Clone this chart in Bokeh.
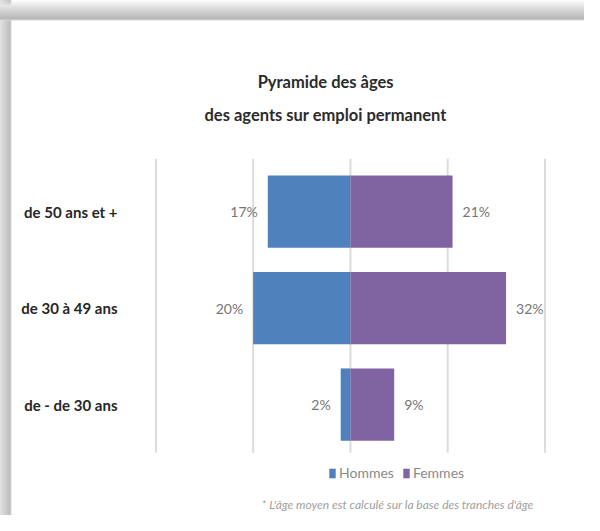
from bokeh.plotting import figure
from bokeh.models import (ColumnDataSource, Range1d, LabelSet, Label, Legend,
                          LegendItem, FixedTicker)
from bokeh.core.properties import value
from bokeh.embed import file_html
from bokeh.resources import INLINE

categories = ["de 50 ans et +", "de 30 à 49 ans", "de - de 30 ans"]
hommes = [17, 20, 2]
femmes = [21, 32, 9]
grid_ticks = [-40, -20, 0, 20, 40]

FONT = "Lato"
BLUE = "#4F81BD"
PURPLE = "#8064A2"

n = len(categories)
ypos = [n - 1 - i for i in range(n)]          # top category drawn highest

src = ColumnDataSource(dict(
    y=ypos,
    h_left=[-v for v in hommes],
    zero=[0] * n,
    f_right=femmes,
    h_lab=[f"{v}%" for v in hommes],
    f_lab=[f"{v}%" for v in femmes],
))

p = figure(width=584, height=515,
           x_range=Range1d(-40.5, 43.2), y_range=Range1d(-1.15, 4.19),
           output_backend="svg", toolbar_location=None,
           min_border_left=153, min_border_right=24,
           min_border_top=0, min_border_bottom=0)
p.outline_line_color = None
p.background_fill_color = None
p.border_fill_color = None
p.styles = {
    "background": ("linear-gradient(to bottom, rgba(255,255,255,0) 0px, #e4e4e4 6px, "
                   "#b6b6b6 19px, #d8d8d8 20px, rgba(255,255,255,0) 21px, rgba(255,255,255,0) 100%), "
                   "linear-gradient(to right, #e2e2e2 0px, #bdbdbd 10px, #d6d6d6 11px, "
                   "rgba(255,255,255,0) 12px, rgba(255,255,255,0) 100%), white"),
}

# vertical grid lines (only over the bar area)
grid_src = ColumnDataSource(dict(x=grid_ticks, y0=[-0.5] * len(grid_ticks),
                                 y1=[n - 0.45] * len(grid_ticks)))
p.segment(x0="x", x1="x", y0="y0", y1="y1", source=grid_src,
          line_color="#dcdcdc", line_width=2)

rh = p.hbar(y="y", left="h_left", right="zero", height=0.75, source=src,
            fill_color=BLUE, line_color=None)
rf = p.hbar(y="y", left="zero", right="f_right", height=0.75, source=src,
            fill_color=PURPLE, line_color=None)

p.add_layout(LabelSet(x="h_left", y="y", text="h_lab", source=src, x_offset=-10,
                      text_align="right", text_baseline="middle",
                      text_font=value(FONT), text_font_size="14px", text_color="#767676"))
p.add_layout(LabelSet(x="f_right", y="y", text="f_lab", source=src, x_offset=10,
                      text_align="left", text_baseline="middle",
                      text_font=value(FONT), text_font_size="14px", text_color="#767676"))

# axes
p.xaxis.visible = False
p.xgrid.visible = False
p.ygrid.visible = False
yax = p.yaxis[0]
yax.ticker = FixedTicker(ticks=ypos)
yax.major_label_overrides = {y: c for y, c in zip(ypos, categories)}
yax.axis_line_color = None
yax.major_tick_line_color = None
yax.minor_tick_line_color = None
yax.major_label_standoff = 30
yax.major_label_text_font = FONT
yax.major_label_text_font_style = "bold"
yax.major_label_text_font_size = "15px"
yax.major_label_text_color = "#262626"

# title (two lines)
for txt, yy in [("Pyramide des âges", 3.34), ("des agents sur emploi permanent", 3.0)]:
    p.add_layout(Label(x=-5.1, y=yy, text=txt, text_align="center", text_baseline="middle",
                       text_font=FONT, text_font_style="bold", text_font_size="16.5px",
                       text_color="#2b2b2b"))

# footnote
p.add_layout(Label(x=9.7, y=-1.04, text="* L'âge moyen est calculé sur la base des tranches d'âge",
                   text_align="center", text_baseline="middle",
                   text_font=FONT, text_font_style="italic", text_font_size="12px",
                   text_color="#a0a0a0"))

legend = Legend(items=[LegendItem(label="Hommes", renderers=[rh]),
                       LegendItem(label="Femmes", renderers=[rf])],
                orientation="horizontal", location=(175, 34),
                glyph_width=8, glyph_height=12, label_standoff=3, spacing=8,
                padding=0, margin=0, border_line_color=None, background_fill_alpha=0,
                label_text_font=FONT, label_text_font_size="14px", label_text_color="#8a8a8a")
p.add_layout(legend, "center")

open("out.html", "w").write(file_html(p, INLINE))
